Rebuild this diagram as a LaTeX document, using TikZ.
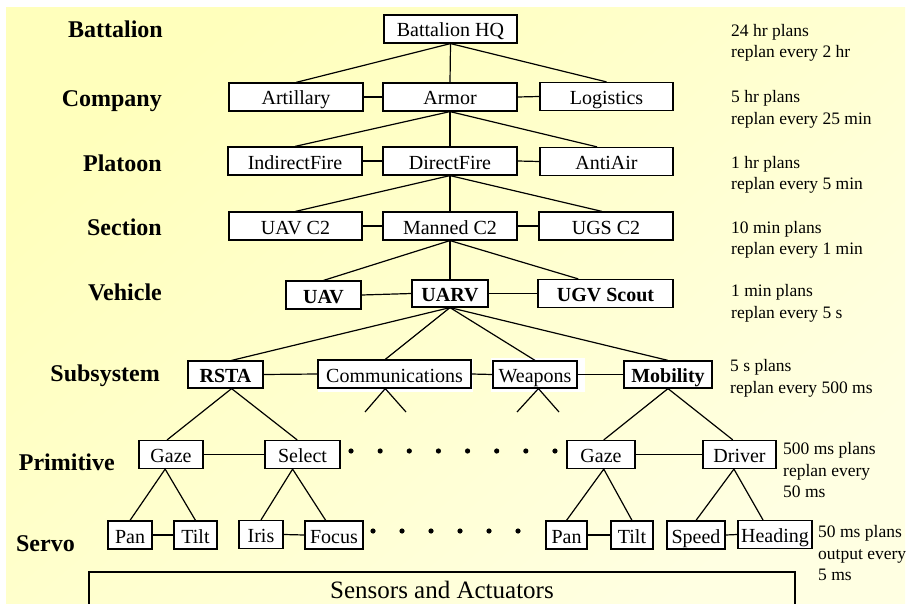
\documentclass[tikz,border=0pt]{standalone}
\usepackage{fontspec}
\setmainfont{Liberation Serif}
\usetikzlibrary{calc}
\definecolor{bgA}{RGB}{255,255,188}
\definecolor{bgB}{RGB}{255,255,226}
\begin{document}
\begin{tikzpicture}[x=1pt,y=-1pt,
  box/.style={draw, fill=white, line width=1.2pt, inner sep=0pt, text height=18pt, text depth=2pt, font=\fontsize{20}{22}\selectfont},
  bbox/.style={box, font=\fontsize{20}{22}\selectfont\bfseries},
  lvl/.style={anchor=base east, inner sep=0pt, font=\fontsize{24}{26}\selectfont\bfseries},
  rate/.style={anchor=base west, inner sep=0pt, font=\fontsize{17.5}{21.5}\selectfont},
  conn/.style={line width=1.2pt},
  leg/.style={line width=1pt}
]
\useasboundingbox (0,0) rectangle (909,604);
\fill[white] (0,0) rectangle (909,604);
\shade[top color=bgA, bottom color=bgB, shading angle=40] (6,8) rectangle (905,604);

% level labels
\node[lvl] (lb1) at (163,38) {Battalion};
\node[lvl] (lb2) at (162,106.5) {Company};
\node[lvl] (lb3) at (162,171.5) {Platoon};
\node[lvl] (lb4) at (162,235.5) {Section};
\node[lvl] (lb5) at (162,300) {Vehicle};
\node[lvl] (lb6) at (160,381.5) {Subsystem};
\node[lvl] (lb7) at (115,470) {Primitive};
\node[lvl] (lb8) at (75,551.5) {Servo};

% rate labels
\node[rate] (r1a) at (731,36.5) {24 hr plans};
\node[rate] (r1b) at (731,58) {replan every 2 hr};
\node[rate] (r2a) at (731,103) {5 hr plans};
\node[rate] (r2b) at (731,124.5) {replan every 25 min};
\node[rate] (r3a) at (731,168) {1 hr plans};
\node[rate] (r3b) at (731,189.5) {replan every 5 min};
\node[rate] (r4a) at (731,233) {10 min plans};
\node[rate] (r4b) at (731,254.5) {replan every 1 min};
\node[rate] (r5a) at (731,296.5) {1 min plans};
\node[rate] (r5b) at (731,318) {replan every 5 s};
\node[rate] (r6a) at (730,371.5) {5 s plans};
\node[rate] (r6b) at (730,393) {replan every 500 ms};
\node[rate] (r7a) at (783,454.5) {500 ms plans};
\node[rate] (r7b) at (783,476) {replan every};
\node[rate] (r7c) at (783,497.5) {50 ms};
\node[rate] (r8a) at (818,537.5) {50 ms plans};
\node[rate] (r8b) at (818,559) {output every};
\node[rate] (r8c) at (818,580.5) {5 ms};

% white halos
\fill[white] (318,359) rectangle (473,392);
\fill[white] (491,358) rectangle (585,392);

% boxes
\node[box, minimum width=133, minimum height=28] (hq) at (450.5,29) {Battalion HQ};
\node[box, minimum width=134, minimum height=28] (art) at (296,97) {Artillary};
\node[box, minimum width=134, minimum height=28] (arm) at (450,97) {Armor};
\node[box, minimum width=133, minimum height=28] (log) at (606.5,96.5) {Logistics};
\node[box, minimum width=134, minimum height=28] (ind) at (295,161) {IndirectFire};
\node[box, minimum width=134, minimum height=28] (dir) at (450,161) {DirectFire};
\node[box, minimum width=133, minimum height=28] (anti) at (606.5,161.5) {AntiAir};
\node[box, minimum width=133, minimum height=28] (uavc) at (295.5,226) {UAV C2};
\node[box, minimum width=134, minimum height=28] (man) at (450,226) {Manned C2};
\node[box, minimum width=134, minimum height=28] (ugs) at (606,226) {UGS C2};
\node[bbox, minimum width=75, minimum height=28] (uav) at (323.5,295) {UAV};
\node[bbox, minimum width=76, minimum height=27] (uarv) at (450,293.5) {UARV};
\node[bbox, minimum width=135, minimum height=28] (ugv) at (605.5,293.5) {UGV Scout};
\node[bbox, minimum width=75, minimum height=27] (rsta) at (225.5,374.5) {RSTA};
\node[box, minimum width=153, minimum height=28] (comm) at (394.5,374) {Communications};
\node[box, minimum width=84, minimum height=27] (weap) at (535,374.5) {Weapons};
\node[bbox, minimum width=88, minimum height=27] (mob) at (668,374.5) {Mobility};
\node[box, minimum width=64, minimum height=28] (gaze1) at (171,454.5) {Gaze};
\node[box, minimum width=75, minimum height=28] (sel) at (302.5,454.5) {Select};
\node[box, minimum width=68, minimum height=28] (gaze2) at (601,454.5) {Gaze};
\node[box, minimum width=73, minimum height=28] (drv) at (739.5,454.5) {Driver};
\node[box, minimum width=44, minimum height=28] (pan1) at (130,535) {Pan};
\node[box, minimum width=43, minimum height=28] (tilt1) at (195.5,535) {Tilt};
\node[box, minimum width=44, minimum height=28] (iris) at (261,534.5) {Iris};
\node[box, minimum width=58, minimum height=28] (focus) at (334,535) {Focus};
\node[box, minimum width=41, minimum height=28] (pan2) at (566.5,535) {Pan};
\node[box, minimum width=42, minimum height=28] (tilt2) at (632,535) {Tilt};
\node[box, minimum width=58, minimum height=28] (speed) at (696,535) {Speed};
\node[box, minimum width=74, minimum height=28] (head) at (775,534.5) {Heading};
\node[draw, line width=1.2pt, inner sep=0pt, minimum width=706, minimum height=36,
      text height=18pt, text depth=2pt,
      font=\fontsize{25}{27}\selectfont] (sens) at (442,590) {Sensors and Actuators};

% connectors
\draw[conn] (hq.south) -- (art.north);
\draw[conn] (hq.south) -- (arm.north);
\draw[conn] (hq.south) -- (log.north);
\draw[conn] (art.east) -- (arm.west);
\draw[conn] (arm.east) -- (log.west);

\draw[conn] (arm.south) -- (ind.north);
\draw[conn] (arm.south) -- (dir.north);
\draw[conn] (arm.south) -- ($(anti.north west)!0.43!(anti.north east)$);
\draw[conn] (ind.east) -- (dir.west);
\draw[conn] (dir.east) -- (anti.west);

\draw[conn] (dir.south) -- (uavc.north);
\draw[conn] (dir.south) -- (man.north);
\draw[conn] (dir.south) -- ($(ugs.north west)!0.47!(ugs.north east)$);
\draw[conn] (uavc.east) -- (man.west);
\draw[conn] (man.east) -- (ugs.west);

\draw[conn] (man.south) -- (uav.north);
\draw[conn] (man.south) -- (uarv.north);
\draw[conn] (man.south) -- ($(ugv.north west)!0.3!(ugv.north east)$);
\draw[conn] (uav.east) -- (uarv.west);
\draw[conn] (uarv.east) -- (ugv.west);

\draw[conn] (uarv.south) -- ($(rsta.north west)!0.58!(rsta.north east)$);
\draw[conn] (uarv.south) -- ($(comm.north west)!0.44!(comm.north east)$);
\draw[conn] (uarv.south) -- (weap.north);
\draw[conn] (uarv.south) -- (mob.north);
\draw[conn] (rsta.east) -- (comm.west);
\draw[conn] (comm.east) -- (weap.west);
\draw[conn] (weap.east) -- (mob.west);

\coordinate (cL) at (365,412);
\coordinate (cR) at (406,412);
\coordinate (wL) at (517,412);
\coordinate (wR) at (559,412);
\draw[conn] (cL) -- ($(comm.south west)!0.44!(comm.south east)$) -- (cR);
\draw[conn] (wL) -- ($(weap.south west)!0.54!(weap.south east)$) -- (wR);

\draw[conn] ($(rsta.south west)!0.58!(rsta.south east)$) -- ($(gaze1.north west)!0.44!(gaze1.north east)$);
\draw[conn] ($(rsta.south west)!0.58!(rsta.south east)$) -- ($(sel.north west)!0.43!(sel.north east)$);
\draw[conn] (gaze1.east) -- (sel.west);
\draw[conn] (mob.south) -- ($(gaze2.north west)!0.54!(gaze2.north east)$);
\draw[conn] (mob.south) -- ($(drv.north west)!0.41!(drv.north east)$);
\draw[conn] (gaze2.east) -- (drv.west);

\draw[conn] (pan1.north) -- ($(gaze1.south west)!0.41!(gaze1.south east)$) -- (tilt1.north);
\draw[conn] (iris.north) -- ($(sel.south west)!0.37!(sel.south east)$) -- ($(focus.north west)!0.36!(focus.north east)$);
\draw[conn] (pan2.north) -- ($(gaze2.south west)!0.54!(gaze2.south east)$) -- (tilt2.north);
\draw[conn] (speed.north) -- ($(drv.south west)!0.425!(drv.south east)$) -- ($(head.north west)!0.34!(head.north east)$);
\draw[conn] (pan1.east) -- (tilt1.west);
\draw[conn] (iris.east) -- (focus.west);
\draw[conn] (pan2.east) -- (tilt2.west);
\draw[conn] (speed.east) -- (head.west);

% legs to sensors
\foreach \n/\a/\b in {pan1/8/36, tilt1/8/36, iris/8/37, focus/13/36, pan2/11/36, tilt2/13/36, speed/16/46, head/11/40}{
  \draw[leg] ($(\n.south west)+(\a,0)$) -- ($(\n.south west)+(\a,0)$ |- sens.north);
  \draw[leg] ($(\n.south west)+(\b,0)$) -- ($(\n.south west)+(\b,0)$ |- sens.north);
}

% dots
\foreach \i in {0,...,7} \fill (351+29.14*\i,451) circle (2.6);
\foreach \i in {0,...,5} \fill (373+29*\i,531) circle (2.6);
\end{tikzpicture}
\end{document}
